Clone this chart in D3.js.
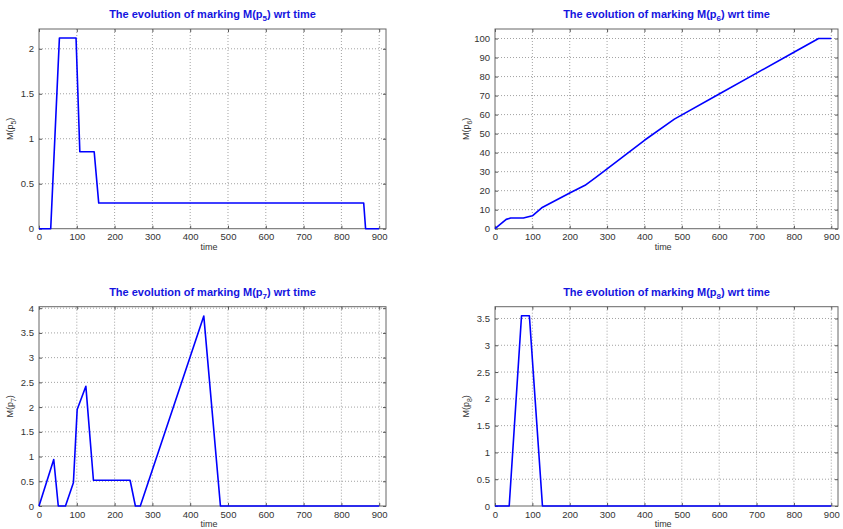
<!DOCTYPE html>
<html>
<head>
<meta charset="utf-8">
<script src="https://cdn.jsdelivr.net/npm/d3@7"></script>
<style>
  body { margin: 0; background: #fff; }
  svg { display: block; font-family: "Liberation Sans", Arial, sans-serif; }
</style>
</head>
<body>
<svg id="chart" width="843" height="529"></svg>
<script>
// values
const timeP5 = [0, 31, 54, 98, 108, 146, 158, 859, 864, 900]
const valP5  = [0, 0, 2.12, 2.12, 0.855, 0.855, 0.285, 0.285, 0, 0]

const timeP6 = [0, 30, 42, 76, 100, 125, 200, 241, 270, 300, 400, 480, 600, 700, 800, 866, 900]
const valP6  = [0, 4.9, 5.6, 5.6, 6.8, 11.0, 18.8, 22.8, 27, 31.5, 46.5, 57.6, 70.8, 81.8, 92.8, 100, 100]

const timeP7 = [0, 39, 51, 70, 91, 101, 124, 144, 241, 255, 268, 436, 480, 900]
const valP7  = [0, 0.94, 0, 0, 0.47, 1.95, 2.42, 0.52, 0.52, 0, 0, 3.84, 0, 0]

const timeP8 = [0, 38, 71, 92, 127, 900]
const valP8  = [0, 0, 3.55, 3.55, 0, 0]

const xTicks = [0, 100, 200, 300, 400, 500, 600, 700, 800, 900]
const yTicksP5 = [0, 0.5, 1, 1.5, 2]
const yTicksP6 = [0, 10, 20, 30, 40, 50, 60, 70, 80, 90, 100]
const yTicksP7 = [0, 0.5, 1, 1.5, 2, 2.5, 3, 3.5, 4]
const yTicksP8 = [0, 0.5, 1, 1.5, 2, 2.5, 3, 3.5]

const svg = d3.select('#chart')

const panels = [
    { idx: '5', t: timeP5, v: valP5, yt: yTicksP5, ymax: 2.22, box: [39, 386, 29, 228.7] },
    { idx: '6', t: timeP6, v: valP6, yt: yTicksP6, ymax: 105, box: [495, 838, 29, 228.7] },
    { idx: '7', t: timeP7, v: valP7, yt: yTicksP7, ymax: 4.03, box: [39, 386, 306.7, 506] },
    { idx: '8', t: timeP8, v: valP8, yt: yTicksP8, ymax: 3.72, box: [495, 838, 306.7, 506] }
]

function drawPanel(p) {
    const [left, right, top, bottom] = p.box
    const x = d3.scaleLinear().domain([0, 918]).range([left, right])
    const y = d3.scaleLinear().domain([0, p.ymax]).range([bottom, top])
    const g = svg.append('g')

    // dotted grid
    g.selectAll('.gx').data(xTicks.filter(d => d > 0)).enter().append('line')
        .attr('x1', d => x(d)).attr('x2', d => x(d))
        .attr('y1', top).attr('y2', bottom)
        .attr('stroke', '#8a8a8a').attr('stroke-width', 0.8)
        .attr('stroke-dasharray', '1,2')
    g.selectAll('.gy').data(p.yt.filter(d => d > 0)).enter().append('line')
        .attr('x1', left).attr('x2', right)
        .attr('y1', d => y(d)).attr('y2', d => y(d))
        .attr('stroke', '#8a8a8a').attr('stroke-width', 0.8)
        .attr('stroke-dasharray', '1,2')

    // axes (ticks inward, labels outside)
    const xa = g.append('g').attr('transform', `translate(0,${bottom})`)
        .call(d3.axisBottom(x).tickValues(xTicks).tickSizeInner(-3).tickSizeOuter(0).tickPadding(5))
    const xt = g.append('g').attr('transform', `translate(0,${top})`)
        .call(d3.axisTop(x).tickValues(xTicks).tickSizeInner(-3).tickSizeOuter(0).tickFormat(''))
    const ya = g.append('g').attr('transform', `translate(${left},0)`)
        .call(d3.axisLeft(y).tickValues(p.yt).tickSizeInner(-3).tickSizeOuter(0).tickPadding(5).tickFormat(d3.format('')))
    const yr = g.append('g').attr('transform', `translate(${right},0)`)
        .call(d3.axisRight(y).tickValues(p.yt).tickSizeInner(-3).tickSizeOuter(0).tickFormat(''))
    ;[xa, xt, ya, yr].forEach(a => {
        a.select('.domain').remove()
        a.selectAll('line').attr('stroke', '#555')
        a.selectAll('text').attr('fill', '#333').style('font-size', '9.5px')
            .style('font-family', '"Liberation Sans", Arial, sans-serif')
    })

    // box
    g.append('rect')
        .attr('x', left).attr('y', top)
        .attr('width', right - left).attr('height', bottom - top)
        .attr('fill', 'none').attr('stroke', '#666').attr('stroke-width', 1)

    // series
    const pts = p.t.map((d, i) => [d, p.v[i]])
    g.append('path')
        .datum(pts)
        .attr('fill', 'none')
        .attr('stroke', '#0000ff')
        .attr('stroke-width', 1.6)
        .attr('stroke-linejoin', 'round')
        .attr('d', d3.line().x(d => x(d[0])).y(d => y(d[1])))

    // title
    const cx = (left + right) / 2
    const title = g.append('text')
        .attr('x', cx).attr('y', top - 11)
        .attr('text-anchor', 'middle')
        .attr('fill', '#1414e0')
        .style('font-size', '11px').style('font-weight', 'bold')
    title.append('tspan').text('The evolution of marking M(p')
    title.append('tspan').attr('dy', 3).style('font-size', '8px').text(p.idx)
    title.append('tspan').attr('dy', -3).text(') wrt time')

    // x label
    g.append('text')
        .attr('x', (x(0) + x(900)) / 2).attr('y', bottom + 21)
        .attr('text-anchor', 'middle')
        .attr('fill', '#333').style('font-size', '9px')
        .text('time')

    // y label
    const yl = g.append('text')
        .attr('transform', `translate(${left - 26},${(top + bottom) / 2}) rotate(-90)`)
        .attr('text-anchor', 'middle')
        .attr('fill', '#333').style('font-size', '9px')
    yl.append('tspan').text('M(p')
    yl.append('tspan').attr('dy', 2.5).style('font-size', '7px').text(p.idx)
    yl.append('tspan').attr('dy', -2.5).text(')')
}

panels.forEach(drawPanel)
</script>
</body>
</html>
